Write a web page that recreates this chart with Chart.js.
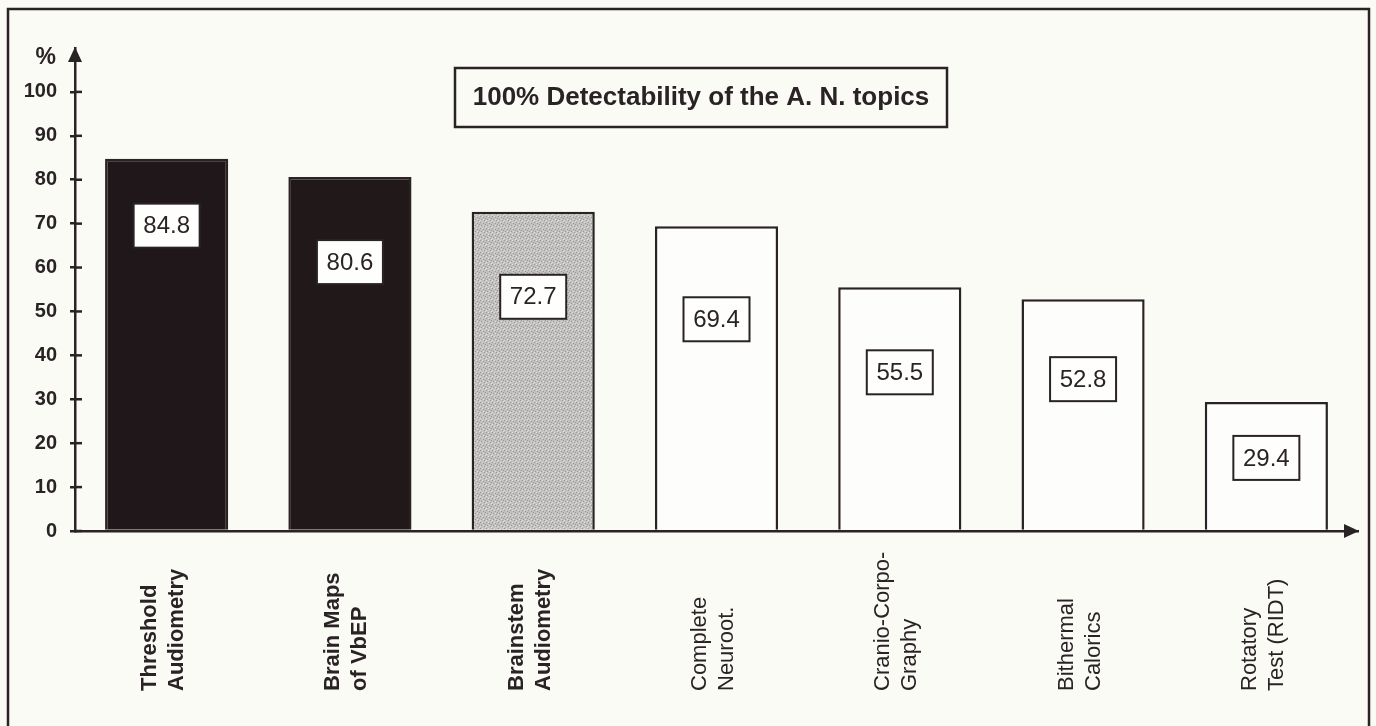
<!DOCTYPE html>
<html>
<head>
<meta charset="utf-8">
<script src="https://cdn.jsdelivr.net/npm/chart.js@4/dist/chart.umd.min.js"></script>
<style>
  html, body { margin: 0; padding: 0; background: #fbfbf6; }
</style>
</head>
<body>
<canvas id="chart" width="1376" height="726"></canvas>
<script>
// data
const categories = [
    ['Threshold', 'Audiometry'],
    ['Brain Maps', 'of VbEP'],
    ['Brainstem', 'Audiometry'],
    ['Complete', 'Neuroot.'],
    ['Cranio-Corpo-', 'Graphy'],
    ['Bithermal', 'Calorics'],
    ['Rotatory', 'Test (RIDT)']
];
const detectability = [84.8, 80.6, 72.7, 69.4, 55.5, 52.8, 29.4];
const yTicks = [0, 10, 20, 30, 40, 50, 60, 70, 80, 90, 100];
const titleText = '100% Detectability of the A. N. topics';
const yUnit = '%';

const ink = '#2a2326';
const paper = '#fbfbf6';
const FONT = 'Arial, "Liberation Sans", Helvetica, sans-serif';

// stippled grey for the third bar
function stipple() {
    const c = document.createElement('canvas');
    c.width = 6; c.height = 6;
    const g = c.getContext('2d');
    g.fillStyle = '#c2c1c0';
    g.fillRect(0, 0, 6, 6);
    g.fillStyle = '#999797';
    [[0, 0], [3, 1], [1, 3], [4, 4], [5, 2]].forEach(p => g.fillRect(p[0], p[1], 1, 1));
    g.fillStyle = '#dfdedc';
    [[2, 0], [5, 5], [0, 4], [3, 3]].forEach(p => g.fillRect(p[0], p[1], 1, 1));
    return document.getElementById('chart').getContext('2d').createPattern(c, 'repeat');
}

const barFills = ['#1f1719', '#201819', stipple(), '#fdfdfb', '#fdfdfb', '#fdfdfb', '#fdfdfb'];
// how far below each bar top its value box sits (px)
const boxDrops = [67, 85, 85, 93, 85, 80, 56];
// which category labels are set in bold
const boldLabels = [true, true, true, false, false, false, false];

const decorPlugin = {
    id: 'decor',
    beforeDraw(chart) {
        const ctx = chart.ctx;
        ctx.save();
        ctx.fillStyle = paper;
        ctx.fillRect(0, 0, chart.width, chart.height);
        ctx.strokeStyle = ink;
        ctx.lineWidth = 2.5;
        ctx.strokeRect(8, 9, 1361, 740);
        ctx.restore();
    },
    afterDraw(chart) {
        const ctx = chart.ctx;
        const area = chart.chartArea;
        const xs = chart.scales.x;
        const ys = chart.scales.y;
        ctx.save();

        // inner halves of the y ticks
        ctx.strokeStyle = ink;
        ctx.lineWidth = 2.5;
        yTicks.forEach(v => {
            const y = ys.getPixelForValue(v);
            ctx.beginPath();
            ctx.moveTo(area.left, y);
            ctx.lineTo(area.left + 7, y);
            ctx.stroke();
        });

        // arrow heads
        ctx.fillStyle = ink;
        ctx.beginPath();
        ctx.moveTo(area.left, area.top - 1);
        ctx.lineTo(area.left - 7, area.top + 14);
        ctx.lineTo(area.left + 7, area.top + 14);
        ctx.closePath();
        ctx.fill();
        ctx.beginPath();
        ctx.moveTo(area.right + 1, area.bottom);
        ctx.lineTo(area.right - 14, area.bottom - 7);
        ctx.lineTo(area.right - 14, area.bottom + 7);
        ctx.closePath();
        ctx.fill();

        // unit label
        ctx.font = 'bold 23px ' + FONT;
        ctx.textAlign = 'right';
        ctx.textBaseline = 'middle';
        ctx.fillText(yUnit, 56, 58);

        // title box
        ctx.lineWidth = 2.5;
        ctx.fillStyle = paper;
        ctx.fillRect(455, 68, 492, 59);
        ctx.strokeRect(455, 68, 492, 59);
        ctx.fillStyle = ink;
        ctx.font = 'bold 26px ' + FONT;
        ctx.textAlign = 'center';
        ctx.fillText(titleText, 701, 98);

        // value boxes
        const meta = chart.getDatasetMeta(0);
        ctx.font = '24px ' + FONT;
        ctx.lineWidth = 2;
        meta.data.forEach((bar, i) => {
            const cy = bar.y + boxDrops[i];
            ctx.fillStyle = '#fefefc';
            ctx.fillRect(bar.x - 33, cy - 22, 66, 44);
            ctx.strokeRect(bar.x - 33, cy - 22, 66, 44);
            ctx.fillStyle = ink;
            ctx.fillText(detectability[i].toFixed(1), bar.x, cy + 1);
        });

        // rotated category labels, reading upward from a common base line
        ctx.textAlign = 'left';
        categories.forEach((lines, i) => {
            const cx = xs.getPixelForValue(i);
            ctx.font = (boldLabels[i] ? 'bold ' : '') + '22px ' + FONT;
            lines.forEach((txt, j) => {
                ctx.save();
                ctx.translate(cx - 3 + (j - 0.5) * 27, 691);
                ctx.rotate(-Math.PI / 2);
                ctx.fillText(txt, 0, 0);
                ctx.restore();
            });
        });

        ctx.restore();
    }
};

new Chart(document.getElementById('chart'), {
    type: 'bar',
    data: {
        labels: categories,
        datasets: [{
            data: detectability,
            backgroundColor: barFills,
            borderColor: ink,
            borderWidth: 2.5,
            barPercentage: 0.672,
            categoryPercentage: 1
        }]
    },
    options: {
        responsive: false,
        animation: false,
        devicePixelRatio: 1,
        layout: { padding: { left: 0, right: 18, top: 48, bottom: 0 } },
        plugins: {
            legend: { display: false },
            tooltip: { enabled: false }
        },
        scales: {
            x: {
                offset: true,
                grid: { display: false },
                border: { display: true, color: ink, width: 2.5 },
                ticks: { display: false },
                afterFit: s => { s.height = 195; }
            },
            y: {
                min: 0,
                max: 110,
                afterBuildTicks: s => { s.ticks = yTicks.map(v => ({ value: v })); },
                grid: { drawOnChartArea: false, tickLength: 5, color: ink, lineWidth: 2.5 },
                border: { display: true, color: ink, width: 2.5 },
                ticks: {
                    color: ink,
                    padding: 13,
                    font: { family: FONT, size: 20, weight: 'bold' }
                },
                afterFit: s => { s.width = 75; }
            }
        }
    },
    plugins: [decorPlugin]
});
</script>
</body>
</html>
